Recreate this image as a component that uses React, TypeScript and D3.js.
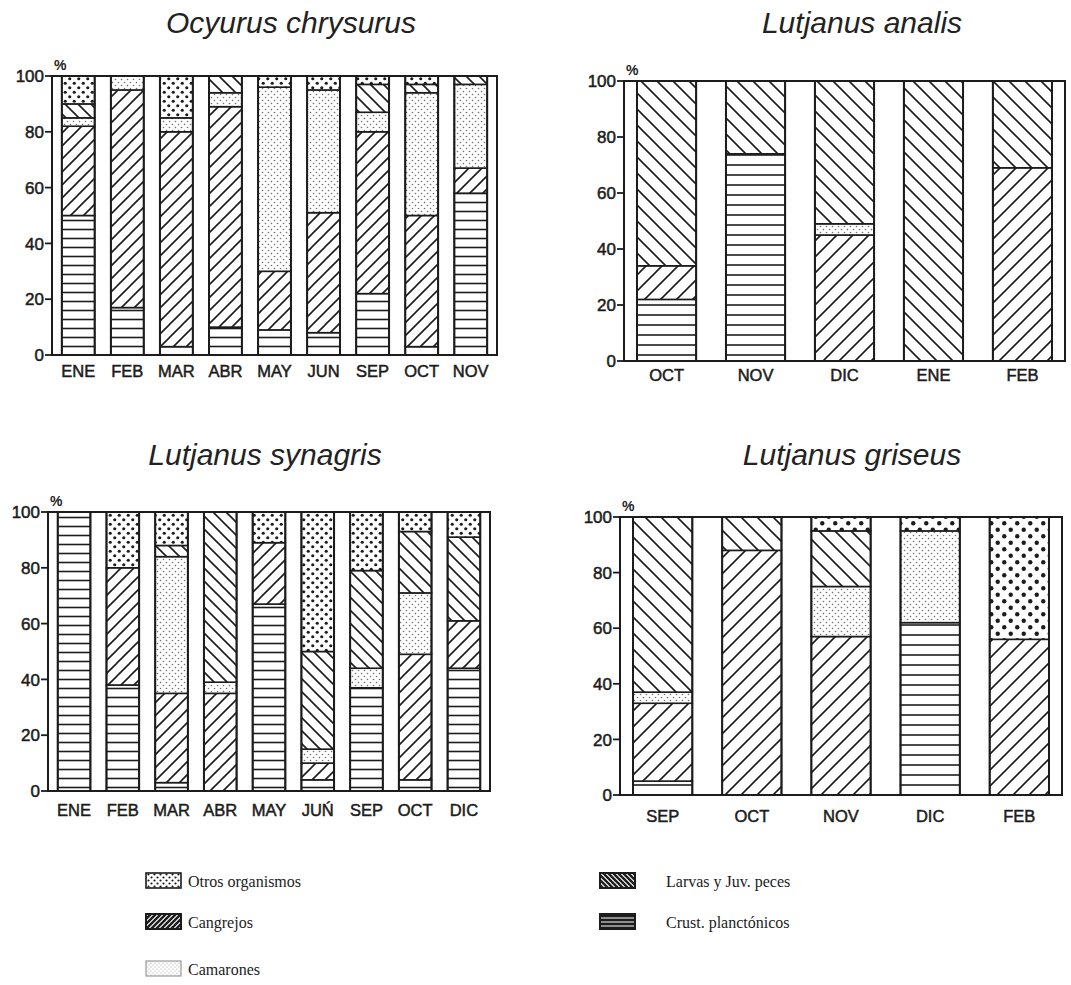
import React from "react";
import * as d3 from "d3";

// ---------- DATA ----------
const KEYS = ["crust", "cangrejos", "camarones", "larvas", "otros"];
const TICKS = [0, 20, 40, 60, 80, 100];

// Ocyurus chrysurus
const OC_MONTHS = ["ENE", "FEB", "MAR", "ABR", "MAY", "JUN", "SEP", "OCT", "NOV"];
const OC_CRUST = [50, 17, 3, 10, 9, 8, 22, 3, 58];
const OC_CANGREJOS = [32, 78, 77, 79, 21, 43, 58, 47, 9];
const OC_CAMARONES = [3, 5, 5, 5, 66, 44, 7, 44, 30];
const OC_LARVAS = [5, 0, 0, 6, 0, 0, 10, 3, 3];
const OC_OTROS = [10, 0, 15, 0, 4, 5, 3, 3, 0];

// Lutjanus analis
const AN_MONTHS = ["OCT", "NOV", "DIC", "ENE", "FEB"];
const AN_CRUST = [22, 74, 0, 0, 0];
const AN_CANGREJOS = [12, 0, 45, 0, 69];
const AN_CAMARONES = [0, 0, 4, 0, 0];
const AN_LARVAS = [66, 26, 51, 100, 31];
const AN_OTROS = [0, 0, 0, 0, 0];

// Lutjanus synagris
const SY_MONTHS = ["ENE", "FEB", "MAR", "ABR", "MAY", "JUŃ", "SEP", "OCT", "DIC"];
const SY_CRUST = [100, 38, 3, 0, 67, 4, 37, 4, 44];
const SY_CANGREJOS = [0, 42, 32, 35, 22, 6, 0, 45, 17];
const SY_CAMARONES = [0, 0, 49, 4, 0, 5, 7, 22, 0];
const SY_LARVAS = [0, 0, 4, 61, 0, 35, 35, 22, 30];
const SY_OTROS = [0, 20, 12, 0, 11, 50, 21, 7, 9];

// Lutjanus griseus
const GR_MONTHS = ["SEP", "OCT", "NOV", "DIC", "FEB"];
const GR_CRUST = [5, 0, 0, 62, 0];
const GR_CANGREJOS = [28, 88, 57, 0, 56];
const GR_CAMARONES = [4, 0, 18, 33, 0];
const GR_LARVAS = [63, 12, 20, 0, 0];
const GR_OTROS = [0, 0, 5, 5, 44];

const TITLES = ["Ocyurus chrysurus", "Lutjanus analis", "Lutjanus synagris", "Lutjanus griseus"];

const LEGEND_LABELS = ["Otros organismos", "Cangrejos", "Camarones", "Larvas y Juv. peces", "Crust. planctónicos"];
const LEGEND_KEYS = ["otros", "cangrejos", "camarones", "larvas", "crust"];

// ---------- LAYOUT ----------
const INK = "#1c1c1c";
const SANS = "'Liberation Sans', Arial, sans-serif";

function makeRows(months: string[], cols: number[][]) {
  return months.map((m, i) => {
    const r: any = { month: m };
    KEYS.forEach((k, j) => (r[k] = cols[j][i]));
    return r;
  });
}

const PANELS = [
  {
    id: "oc", title: TITLES[0], months: OC_MONTHS,
    rows: makeRows(OC_MONTHS, [OC_CRUST, OC_CANGREJOS, OC_CAMARONES, OC_LARVAS, OC_OTROS]),
    x0: 52, x1: 497, yTop: 76, yBot: 355, labelY: 371, titleX: 291, titleY: 33,
    pi: 0.33, po: 0.2, hatch: 13, crust: 9, dot: 9, dotR: 1.6,
  },
  {
    id: "an", title: TITLES[1], months: AN_MONTHS,
    rows: makeRows(AN_MONTHS, [AN_CRUST, AN_CANGREJOS, AN_CAMARONES, AN_LARVAS, AN_OTROS]),
    x0: 624, x1: 1065, yTop: 81, yBot: 361, labelY: 375, titleX: 862, titleY: 33,
    pi: 0.335, po: 0.146, hatch: 16, crust: 10, dot: 11, dotR: 1.9,
  },
  {
    id: "sy", title: TITLES[2], months: SY_MONTHS,
    rows: makeRows(SY_MONTHS, [SY_CRUST, SY_CANGREJOS, SY_CAMARONES, SY_LARVAS, SY_OTROS]),
    x0: 48, x1: 490, yTop: 512, yBot: 791, labelY: 810, titleX: 265, titleY: 465,
    pi: 0.33, po: 0.2, hatch: 13, crust: 9, dot: 9, dotR: 1.6,
  },
  {
    id: "gr", title: TITLES[3], months: GR_MONTHS,
    rows: makeRows(GR_MONTHS, [GR_CRUST, GR_CANGREJOS, GR_CAMARONES, GR_LARVAS, GR_OTROS]),
    x0: 620, x1: 1062, yTop: 517, yBot: 795, labelY: 816, titleX: 852, titleY: 465,
    pi: 0.335, po: 0.146, hatch: 16, crust: 10, dot: 13, dotR: 2.2,
  },
];

function Patterns({ id, hatch, crust, dot, dotR }: any) {
  const s = hatch;
  return (
    <>
      <pattern id={`${id}-crust`} patternUnits="userSpaceOnUse" width={10} height={crust}>
        <rect width={10} height={crust} fill="#fff" />
        <line x1={0} x2={10} y1={crust / 2} y2={crust / 2} stroke={INK} strokeWidth={1.6} />
      </pattern>
      <pattern id={`${id}-cangrejos`} patternUnits="userSpaceOnUse" width={s} height={s}>
        <rect width={s} height={s} fill="#fff" />
        <path d={`M-2,2 L2,-2 M0,${s} L${s},0 M${s - 2},${s + 2} L${s + 2},${s - 2}`} stroke={INK} strokeWidth={1.6} />
      </pattern>
      <pattern id={`${id}-larvas`} patternUnits="userSpaceOnUse" width={s} height={s}>
        <rect width={s} height={s} fill="#fff" />
        <path d={`M-2,${s - 2} L2,${s + 2} M0,0 L${s},${s} M${s - 2},-2 L${s + 2},2`} stroke={INK} strokeWidth={1.6} />
      </pattern>
      <pattern id={`${id}-camarones`} patternUnits="userSpaceOnUse" width={6} height={6}>
        <rect width={6} height={6} fill="#fff" />
        <circle cx={1.5} cy={1.5} r={0.8} fill="#707070" />
        <circle cx={4.5} cy={4.5} r={0.8} fill="#707070" />
      </pattern>
      <pattern id={`${id}-otros`} patternUnits="userSpaceOnUse" width={dot} height={dot}>
        <rect width={dot} height={dot} fill="#fff" />
        <circle cx={dot / 4} cy={dot / 4} r={dotR} fill={INK} />
        <circle cx={(3 * dot) / 4} cy={(3 * dot) / 4} r={dotR} fill={INK} />
      </pattern>
    </>
  );
}

function Panel({ p }: any) {
  const x = d3.scaleBand<string>().domain(p.months).range([p.x0, p.x1]).paddingInner(p.pi).paddingOuter(p.po);
  const y = d3.scaleLinear().domain([0, 100]).range([p.yBot, p.yTop]);
  const stacked = d3.stack<any>().keys(KEYS)(p.rows);
  const bw = x.bandwidth();
  return (
    <g>
      <text x={p.titleX} y={p.titleY} textAnchor="middle" fontFamily={SANS}
        fontStyle="italic" fontSize={30} fill="#222">{p.title}</text>
      <rect x={p.x0} y={p.yTop} width={p.x1 - p.x0} height={p.yBot - p.yTop} fill="#fff" stroke={INK} strokeWidth={2} />
      {stacked.map((layer) =>
        layer.map((d, i) => {
          if (d[1] - d[0] <= 0) return null;
          const m = p.months[i];
          return (
            <rect key={`${layer.key}-${m}`} x={x(m)} y={y(d[1])} width={bw} height={y(d[0]) - y(d[1])}
              fill={`url(#${p.id}-${layer.key})`} stroke={INK} strokeWidth={1.6} />
          );
        })
      )}
      {p.months.map((m: string) => (
        <rect key={`o-${m}`} x={x(m)} y={y(100)} width={bw} height={y(0) - y(100)} fill="none" stroke={INK} strokeWidth={2} />
      ))}
      {TICKS.map((t) => (
        <g key={t}>
          <line x1={p.x0 - 7} x2={p.x0} y1={y(t)} y2={y(t)} stroke={INK} strokeWidth={1.8} />
          <text x={p.x0 - 8} y={y(t)} dy="0.36em" textAnchor="end" fontFamily={SANS}
            fontSize={17} fill={INK} stroke={INK} strokeWidth={0.5}>{t}</text>
        </g>
      ))}
      <text x={p.x0 + 2} y={p.yTop - 6} fontFamily={SANS} fontWeight="bold"
        fontSize={14} fill={INK}>%</text>
      {p.months.map((m: string) => (
        <text key={`l-${m}`} x={(x(m) as number) + bw / 2} y={p.labelY} dy="0.36em" textAnchor="middle"
          fontFamily={SANS} fontSize={16.5} fill={INK} stroke={INK} strokeWidth={0.5}>{m}</text>
      ))}
    </g>
  );
}

function LegendSwatch({ k, x, y }: any) {
  const w = 35, h = 15;
  if (k === "otros") {
    return <rect x={x} y={y} width={w} height={h} fill="url(#lg-otros)" stroke={INK} strokeWidth={1.6} />;
  }
  if (k === "camarones") {
    return <rect x={x} y={y} width={w} height={h} fill="url(#lg-camarones)" stroke="#999" strokeWidth={1.2} />;
  }
  return <rect x={x} y={y} width={w} height={h} fill={`url(#lg-${k})`} stroke={INK} strokeWidth={2} />;
}

export default function App() {
  const legendPos = [
    { x: 146, y: 873, tx: 188 },
    { x: 146, y: 914, tx: 188 },
    { x: 146, y: 961, tx: 188 },
    { x: 600, y: 873, tx: 666 },
    { x: 600, y: 914, tx: 666 },
  ];
  return (
    <div style={{ position: "absolute", left: 0, top: 0 }}>
      <svg width={1071} height={985} style={{ display: "block", background: "#fff" }}>
        <defs>
          {PANELS.map((p) => (
            <Patterns key={p.id} id={p.id} hatch={p.hatch} crust={p.crust} dot={p.dot} dotR={p.dotR} />
          ))}
          <pattern id="lg-cangrejos" patternUnits="userSpaceOnUse" width={5} height={5}>
            <rect width={5} height={5} fill="#fff" />
            <path d="M-1,1 L1,-1 M0,5 L5,0 M4,6 L6,4" stroke={INK} strokeWidth={2.4} />
          </pattern>
          <pattern id="lg-larvas" patternUnits="userSpaceOnUse" width={5} height={5}>
            <rect width={5} height={5} fill="#fff" />
            <path d="M-1,4 L1,6 M0,0 L5,5 M4,-1 L6,1" stroke={INK} strokeWidth={2.4} />
          </pattern>
          <pattern id="lg-crust" patternUnits="userSpaceOnUse" width={10} height={4}>
            <rect width={10} height={4} fill={INK} />
            <line x1={0} x2={10} y1={2} y2={2} stroke="#fff" strokeWidth={1} />
          </pattern>
          <pattern id="lg-otros" patternUnits="userSpaceOnUse" width={6} height={6}>
            <rect width={6} height={6} fill="#fff" />
            <circle cx={1.5} cy={1.5} r={1.1} fill={INK} />
            <circle cx={4.5} cy={4.5} r={1.1} fill={INK} />
          </pattern>
          <pattern id="lg-camarones" patternUnits="userSpaceOnUse" width={4} height={4}>
            <rect width={4} height={4} fill="#fff" />
            <circle cx={1} cy={1} r={0.6} fill="#999" />
            <circle cx={3} cy={3} r={0.6} fill="#999" />
          </pattern>
        </defs>
        {PANELS.map((p) => (
          <Panel key={p.id} p={p} />
        ))}
        {LEGEND_KEYS.map((k, i) => (
          <g key={k}>
            <LegendSwatch k={k} x={legendPos[i].x} y={legendPos[i].y} />
            <text x={legendPos[i].tx} y={legendPos[i].y + 8} dy="0.35em" fontFamily="'Liberation Serif', 'Times New Roman', serif"
              fontSize={16} fill={INK}>{LEGEND_LABELS[i]}</text>
          </g>
        ))}
      </svg>
    </div>
  );
}
